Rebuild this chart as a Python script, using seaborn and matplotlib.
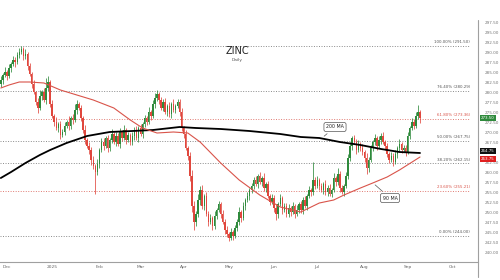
import numpy as np
import pandas as pd
import matplotlib
matplotlib.use("Agg")
import matplotlib.pyplot as plt
import seaborn as sns
from matplotlib.lines import Line2D

# ---------------- data ----------------
start_date = "2024-11-27"
first_open = 282.0
close = [
    283.0, 284.25, 285.0, 284.0, 286.0, 287.0, 288.0, 287.5, 289.25, 290.0,
    290.75, 289.0, 289.5, 286.5, 284.5, 282.0, 280.0, 277.5, 276.0, 279.0,
    280.0, 278.0, 281.0, 282.5, 277.0, 274.0, 272.5, 271.0, 272.0, 269.25,
    270.0, 271.5, 272.5, 271.5, 273.5, 273.0, 275.5, 277.0, 276.0, 273.5,
    270.5, 268.0, 266.5, 265.5, 263.0, 261.5, 260.0, 262.0, 265.5, 267.5,
    266.5, 268.5, 266.0, 268.0, 269.5, 267.5, 269.0, 267.0, 270.0, 268.5,
    270.5, 268.0, 269.25, 267.5, 269.0, 270.5, 268.5, 271.0, 269.5, 272.0,
    273.5, 272.5, 275.0, 274.0, 277.0, 278.5, 279.5, 278.0, 276.0, 277.5,
    275.0, 276.5, 274.5, 277.0, 275.5, 276.5, 277.5, 275.0, 271.0, 269.5,
    266.0, 264.0, 259.0, 251.5, 247.5, 249.5, 253.0, 255.5, 251.5, 254.0,
    249.5, 247.5, 248.5, 246.5, 249.0, 250.5, 252.0, 249.5, 247.5, 245.5,
    244.5, 243.5, 245.0, 244.0, 246.0, 247.5, 250.0, 248.5, 251.5, 253.0,
    254.0, 255.5, 256.5, 258.0, 257.0, 259.0, 257.5, 258.5, 256.0, 257.0,
    254.0, 252.5, 253.5, 251.0, 249.5, 252.0, 253.5, 250.5, 251.5, 249.5,
    251.0, 250.0, 251.5, 249.5, 250.5, 252.0, 250.5, 253.0, 251.5, 254.0,
    255.5, 255.0, 258.0, 256.5, 258.0, 256.5, 255.5, 257.0, 255.0, 256.0,
    254.5, 255.5, 258.5, 257.5, 259.5, 256.0, 255.0, 256.5, 259.0, 263.5,
    266.5, 268.5, 267.5, 265.5, 267.0, 266.0, 265.0, 263.5, 261.0, 263.0,
    266.0, 267.5, 268.5, 266.5, 268.0, 269.0, 267.5, 266.5, 264.5, 263.0,
    264.0, 262.5, 264.5, 266.0, 267.0, 265.5, 266.0, 265.0, 269.0, 271.0,
    272.5, 271.5, 274.0, 275.0, 273.5,
]
up_wick = [
    1.0, 0.6, 1.2, 0.4, 0.9, 0.5, 1.1, 0.7, 0.8, 0.9,
    0.75, 0.4, 1.3, 0.6, 0.8, 0.5, 1.0, 0.3, 0.9, 1.5,
    0.6, 1.1, 2.5, 1.4, 0.5, 0.9, 0.6, 1.2, 0.4, 0.8,
    0.7, 1.0, 0.4, 1.5, 0.6, 0.9, 1.4, 1.1, 0.5, 0.8,
    0.6, 1.2, 0.4, 0.9, 0.7, 1.0, 0.5, 1.3, 0.6, 0.9,
    1.1, 0.5, 0.8, 0.6, 1.2, 0.4, 1.0, 0.7, 0.9, 0.5,
    1.2, 0.6, 0.8, 0.5, 1.1, 0.7, 0.9, 0.4, 1.0, 0.6,
    0.8, 0.5, 1.2, 0.6, 0.9, 1.3, 1.0, 0.5, 0.8, 0.7,
    1.1, 0.4, 0.9, 0.6, 1.2, 0.5, 0.8, 0.7, 1.0, 0.6,
    0.9, 0.5, 1.1, 1.5, 1.2, 0.8, 1.6, 1.0, 1.3, 0.6,
    1.0, 0.7, 0.9, 0.5, 1.2, 0.6, 0.8, 0.4, 1.1, 0.7,
    0.9, 0.5, 1.0, 0.6, 0.8, 0.7, 1.2, 0.5, 0.9, 0.6,
    1.1, 0.5, 0.8, 0.7, 1.0, 0.6, 0.9, 0.4, 1.2, 0.6,
    0.8, 0.5, 1.0, 0.7, 0.9, 0.6, 1.1, 0.5, 0.8, 0.7,
    1.0, 0.4, 0.9, 0.6, 1.2, 0.5, 0.8, 0.7, 1.0, 0.6,
    0.9, 0.5, 4.5, 0.7, 1.1, 0.6, 0.8, 0.5, 1.0, 0.7,
    0.9, 0.6, 1.2, 0.5, 1.4, 0.7, 0.8, 0.6, 1.0, 0.9,
    1.1, 0.6, 0.8, 0.7, 1.0, 0.5, 0.9, 0.6, 1.2, 0.7,
    0.8, 0.5, 1.0, 0.6, 0.9, 0.7, 1.1, 0.5, 0.8, 0.6,
    1.0, 0.7, 0.9, 0.5, 1.2, 0.6, 0.8, 0.7, 1.0, 0.6,
    0.9, 0.8, 1.0, 1.75, 0.6,
]
dn_wick = [
    0.7, 1.0, 0.5, 1.1, 0.6, 0.9, 0.4, 1.2, 0.6, 0.8,
    0.5, 1.0, 0.7, 0.9, 0.6, 1.1, 0.5, 0.8, 1.2, 0.6,
    0.9, 0.5, 1.0, 0.7, 0.8, 0.6, 1.1, 0.5, 0.9, 1.0,
    0.6, 0.8, 0.5, 1.0, 0.7, 0.9, 0.6, 1.1, 0.5, 0.8,
    0.7, 1.0, 0.6, 0.9, 1.2, 0.8, 5.5, 0.7, 1.0, 0.6,
    0.9, 0.5, 1.1, 0.7, 0.8, 0.6, 1.0, 0.5, 0.9, 0.7,
    0.6, 1.0, 0.5, 0.8, 0.7, 1.1, 0.6, 0.9, 0.5, 1.0,
    0.7, 0.8, 0.6, 1.0, 0.5, 0.9, 0.7, 1.1, 0.6, 0.8,
    0.5, 1.0, 0.7, 0.9, 0.6, 0.8, 0.5, 1.1, 0.7, 0.9,
    0.6, 1.0, 1.2, 1.5, 2.0, 1.0, 0.8, 1.2, 0.7, 1.0,
    0.6, 0.9, 0.5, 1.1, 0.7, 0.8, 0.6, 1.0, 0.5, 0.9,
    0.7, 0.75, 0.6, 1.0, 0.5, 0.8, 0.7, 1.1, 0.6, 0.9,
    0.5, 1.0, 0.7, 0.8, 0.6, 1.1, 0.5, 0.9, 0.7, 1.0,
    0.6, 0.8, 0.5, 1.0, 1.5, 0.9, 0.6, 1.1, 0.5, 0.8,
    0.7, 1.0, 0.6, 0.9, 0.5, 0.8, 0.7, 1.1, 0.6, 1.0,
    0.5, 0.9, 0.7, 0.8, 0.6, 1.0, 0.5, 0.9, 0.7, 1.1,
    0.6, 0.8, 0.5, 1.0, 0.7, 0.9, 0.6, 1.1, 0.5, 0.8,
    0.7, 1.0, 0.6, 0.9, 0.5, 0.8, 0.7, 1.1, 1.5, 0.9,
    0.5, 0.8, 0.7, 1.0, 0.6, 0.9, 0.5, 1.1, 0.7, 0.8,
    0.6, 1.0, 0.5, 0.9, 0.7, 0.8, 0.6, 1.0, 0.5, 0.7,
    0.6, 0.8, 0.5, 0.7, 1.2,
]
ma200_idx = [0, 5, 12, 19, 24, 32, 42, 53, 64, 74, 87, 95, 107, 121, 136, 146, 155, 165, 175, 185, 194, 204]
ma200_val = [258.5, 260.0, 262.25, 264.25, 265.5, 267.25, 269.0, 270.0, 270.25, 270.5, 271.25,
             271.0, 270.75, 270.25, 269.5, 268.75, 268.5, 267.5, 266.75, 265.75, 265.0, 264.75]
ma90_idx = [0, 4, 9, 14, 21, 29, 37, 45, 55, 63, 69, 76, 84, 91, 97, 107, 116, 126, 136, 146,
            155, 162, 167, 175, 181, 188, 194, 204]
ma90_val = [281.0, 281.75, 282.5, 282.5, 282.25, 280.5, 279.25, 278.0, 276.0, 273.0, 271.0,
            269.75, 270.0, 269.75, 267.5, 262.25, 258.0, 254.25, 251.25, 250.0, 252.25, 253.0,
            254.25, 256.0, 257.25, 258.75, 260.5, 263.75]
fib_pct = [100.0, 76.4, 61.8, 50.0, 38.2, 23.6, 0.0]
fib_val = [291.50, 280.29, 273.36, 267.75, 262.15, 255.21, 244.00]
fib_red = [False, False, True, False, False, True, False]
month_starts = ["2024-12-01", "2025-01-01", "2025-02-01", "2025-03-01", "2025-04-01", "2025-05-01",
                "2025-06-01", "2025-07-01", "2025-08-01", "2025-09-01", "2025-10-01"]
month_labels = ["Dec", "2025", "Feb", "Mar", "Apr", "May", "Jun", "Jul", "Aug", "Sep", "Oct"]
title = "ZINC"
subtitle = "Daily"

# ---------------- figure ----------------
sns.set_theme(style="white")
plt.rcParams["font.family"] = ["DejaVu Sans"]

W, H = 500, 280
fig = plt.figure(figsize=(5, 2.8), dpi=100)
ax = fig.add_axes([0, 18 / H, 478 / W, 242 / H])
ax.set_facecolor("white")

dates = pd.bdate_range(start_date, periods=260)
n = len(close)
idx = np.arange(n)
c = np.array(close)
o = np.array([first_open] + close[:-1])
hi = np.maximum(o, c) + np.array(up_wick)
lo = np.minimum(o, c) - np.array(dn_wick)
up = c >= o
GREEN, RED = "#2f8a3c", "#e0473d"
cols = np.where(up, GREEN, RED)

ax.vlines(idx, lo, hi, colors=cols, lw=0.55, zorder=2)
body = np.maximum(np.abs(c - o), 0.15)
ax.bar(idx, body, bottom=np.minimum(o, c), width=0.72, color=cols, linewidth=0, zorder=3)

# moving averages with seaborn
sns.lineplot(x=ma200_idx, y=ma200_val, ax=ax, color="black", lw=1.3, zorder=4)
sns.lineplot(x=ma90_idx, y=ma90_val, ax=ax, color="#d9544a", lw=0.8, zorder=4)

def px_to_idx(xp):
    return (xp - 0.8) / 2.055

x_left, x_right = px_to_idx(0), px_to_idx(478)
ax.set_xlim(x_left, x_right)
ax.set_ylim(237.5, 298.0)

# fibonacci levels
x_fib_end = px_to_idx(470)
for p, v, r in zip(fib_pct, fib_val, fib_red):
    col = "#e07a72" if r else "#8a8a8a"
    tcol = "#d9544a" if r else "#555555"
    ax.hlines(v, x_left, x_fib_end, colors=col, linestyles=(0, (1, 1.6)), lw=0.7, zorder=1)
    ax.text(x_fib_end, v + 0.45, f"{p:.2f}% ({v:.2f})", ha="right", va="bottom",
            fontsize=2.9, color=tcol, zorder=5)

# x ticks at month starts
mpos = [dates.searchsorted(pd.Timestamp(m)) for m in month_starts]
ax.set_xticks(mpos)
ax.set_xticklabels(month_labels, fontsize=3.2, color="#666666")
ax.tick_params(axis="x", length=0, pad=2.5)

# right-side value boxes: values and colours
box_vals = [c[-1], ma200_val[-1], ma90_val[-1]]
box_cols = [GREEN, "#111111", "#e02020"]
box_dy = [0.0, 0.55, -0.55]

# y axis on the right (tick labels hidden where a value box sits on top of them)
ax.yaxis.tick_right()
yt = np.arange(240, 298.1, 2.5)
ax.set_yticks(yt)
ax.set_yticklabels(["" if min(abs(v - b) for b in box_vals) < 1.0 else f"{v:.2f}" for v in yt],
                   fontsize=3.0, color="#777777")
ax.tick_params(axis="y", length=0, pad=5)

for s in ["top", "left", "right"]:
    ax.spines[s].set_visible(False)
ax.spines["bottom"].set_color("#a0a0a0")
ax.spines["bottom"].set_linewidth(0.8)
ax.grid(False)
fig.add_artist(Line2D([478 / W, 478 / W], [1 - 20 / H, 1 - 277 / H], color="#a0a0a0", lw=0.8))

tr = ax.get_yaxis_transform()
for val, fc, dy in zip(box_vals, box_cols, box_dy):
    ax.text(1.006, val + dy, f"{val:.2f}", transform=tr, ha="left", va="center", fontsize=2.9,
            color="white", clip_on=False, zorder=6,
            bbox=dict(boxstyle="square,pad=0.25", fc=fc, ec="none"))

# MA callouts
ax.annotate("200 MA", xy=(px_to_idx(322), 303 - 138 / 4), xytext=(px_to_idx(335), 303 - 127 / 4),
            fontsize=3.4, ha="center", va="center", color="#222222", zorder=7,
            bbox=dict(boxstyle="round,pad=0.45", fc="white", ec="#555555", lw=0.5),
            arrowprops=dict(arrowstyle="-", color="#555555", lw=0.5))
ax.annotate("90 MA", xy=(px_to_idx(373), 303 - 183 / 4), xytext=(px_to_idx(390), 303 - 198 / 4),
            fontsize=3.4, ha="center", va="center", color="#222222", zorder=7,
            bbox=dict(boxstyle="round,pad=0.45", fc="white", ec="#555555", lw=0.5),
            arrowprops=dict(arrowstyle="-", color="#555555", lw=0.5))

fig.text(237 / W, 1 - 51 / H, title, fontsize=7, ha="center", va="center", color="#222222")
fig.text(237 / W, 1 - 60 / H, subtitle, fontsize=3.2, ha="center", va="center", color="#555555")

fig.savefig("out.png", dpi=100, facecolor="white")
